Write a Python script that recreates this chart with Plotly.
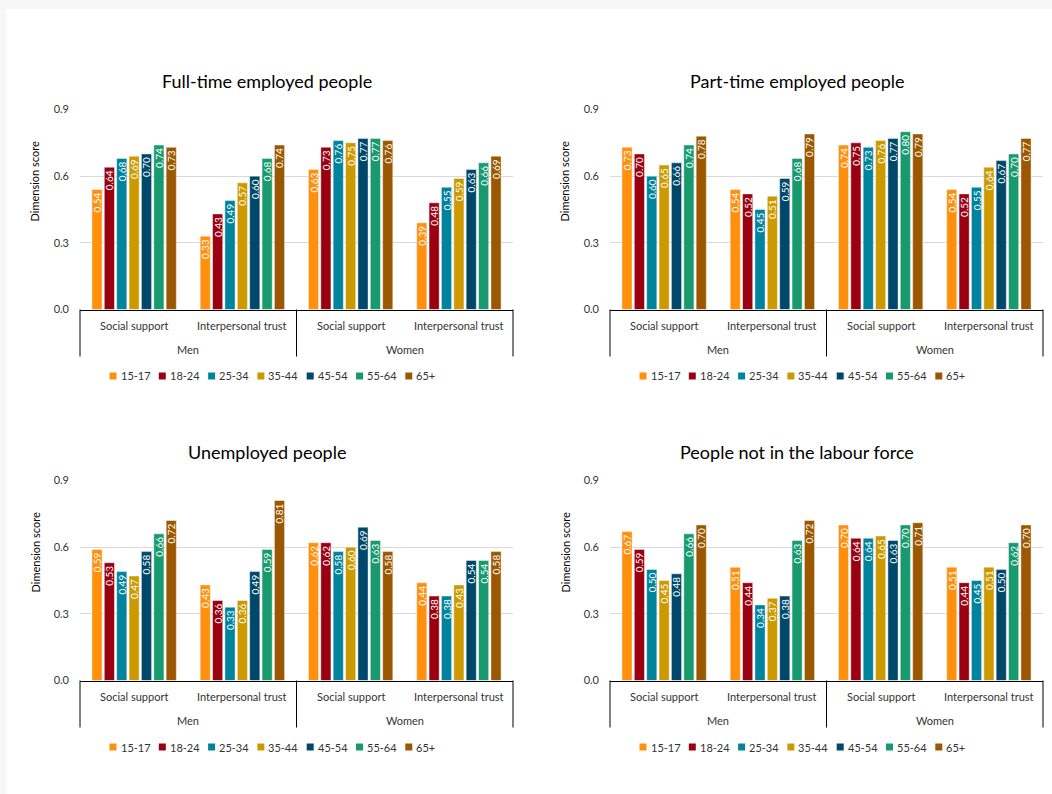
import plotly.graph_objects as go

ages = ["15-17", "18-24", "25-34", "35-44", "45-54", "55-64", "65+"]
colors = ["#FF900E", "#990012", "#00849D", "#CC9A00", "#00486A", "#189A6E", "#9C5800"]
groups = ["Men", "Men", "Women", "Women"]
dims = ["Social support", "Interpersonal trust", "Social support", "Interpersonal trust"]
group_names = ["Men", "Women"]
titles = ["Full-time employed people", "Part-time employed people",
          "Unemployed people", "People not in the labour force"]

# values[panel][age] -> [Men SS, Men IT, Women SS, Women IT]
full_time = [
    [0.54, 0.33, 0.63, 0.39],
    [0.64, 0.43, 0.73, 0.48],
    [0.68, 0.49, 0.76, 0.55],
    [0.69, 0.57, 0.75, 0.59],
    [0.70, 0.60, 0.77, 0.63],
    [0.74, 0.68, 0.77, 0.66],
    [0.73, 0.74, 0.76, 0.69],
]
part_time = [
    [0.73, 0.54, 0.74, 0.54],
    [0.70, 0.52, 0.75, 0.52],
    [0.60, 0.45, 0.73, 0.55],
    [0.65, 0.51, 0.76, 0.64],
    [0.66, 0.59, 0.77, 0.67],
    [0.74, 0.68, 0.80, 0.70],
    [0.78, 0.79, 0.79, 0.77],
]
unemployed = [
    [0.59, 0.43, 0.62, 0.44],
    [0.53, 0.36, 0.62, 0.38],
    [0.49, 0.33, 0.58, 0.38],
    [0.47, 0.36, 0.60, 0.43],
    [0.58, 0.49, 0.69, 0.54],
    [0.66, 0.59, 0.63, 0.54],
    [0.72, 0.81, 0.58, 0.58],
]
not_in_lf = [
    [0.67, 0.51, 0.70, 0.51],
    [0.59, 0.44, 0.64, 0.44],
    [0.50, 0.34, 0.64, 0.45],
    [0.45, 0.37, 0.65, 0.51],
    [0.48, 0.38, 0.63, 0.50],
    [0.66, 0.63, 0.70, 0.62],
    [0.70, 0.72, 0.71, 0.70],
]
panels = [full_time, part_time, unemployed, not_in_lf]

W, H = 1052, 794
FONT = "Lato"
TXT = "#333333"

def px_x(v):
    return v / W

def px_y(v):
    return 1 - v / H

# layout geometry (pixels): right column offset 530, bottom row offset 371
DX, DY = 530, 371
offs = [(0, 0), (DX, 0), (0, DY), (DX, DY)]
PLOT_X = (80, 513)
PLOT_Y = (109.5, 309.5)
TITLE_XY = (267, 81)
YTITLE_XY = (34.5, 182)
LEG_X0, LEG_STEP, LEG_Y, SQ = 109.5, 49.3, 376, 7
INNER_OFF, OUTER_OFF, DIV_LEN = 16, 40, 47

fig = go.Figure()
layout = dict()
annotations = []
shapes = [dict(type="rect", xref="paper", yref="paper",
               x0=6 / W, x1=1, y0=0, y1=1 - 9 / H,
               fillcolor="white", line=dict(width=0), layer="below")]
for p, data in enumerate(panels):
    ox, oy = offs[p]
    ax = "" if p == 0 else str(p + 1)
    ph = PLOT_Y[1] - PLOT_Y[0]
    for a, age in enumerate(ages):
        fig.add_trace(go.Bar(
            x=[groups, dims], y=data[a], name=age,
            marker=dict(color=colors[a], line=dict(color="rgba(255,255,255,0.55)", width=0.8)),
            text=data[a], texttemplate="%{y:.2f}", textposition="inside",
            insidetextanchor="end", textangle=-90, cliponaxis=False,
            textfont=dict(color="white", size=10, family=FONT),
            xaxis="x" + ax, yaxis="y" + ax, showlegend=False,
            hovertemplate=age + ": %{y:.2f}<extra></extra>",
        ))
    layout["xaxis" + ax] = dict(
        domain=[px_x(PLOT_X[0] + ox), px_x(PLOT_X[1] + ox)],
        anchor="y" + ax, type="multicategory", automargin=False,
        showline=True, linecolor="#000", linewidth=1,
        showdividers=False, showticklabels=False,
        showgrid=False, ticks="",
    )
    layout["yaxis" + ax] = dict(
        domain=[px_y(PLOT_Y[1] + oy), px_y(PLOT_Y[0] + oy)],
        anchor="x" + ax, range=[0, 0.9], tickvals=[0, 0.3, 0.6, 0.9],
        tickformat=".1f", showgrid=True, gridcolor="#D9D9D9", gridwidth=1,
        zeroline=False, showline=False, ticks="", automargin=False,
        ticklabelstandoff=10,
        tickfont=dict(size=11, color=TXT, family=FONT),
    )
    # category labels (inner level) and group labels (outer level)
    n = len(dims)
    for i, d in enumerate(dims):
        annotations.append(dict(
            text=d, x=(i + 0.5) / n, y=-INNER_OFF / ph,
            xref="x" + ax + " domain", yref="y" + ax + " domain",
            xanchor="center", yanchor="middle", showarrow=False,
            font=dict(size=11, color=TXT, family=FONT),
        ))
    ng = len(group_names)
    for g, gname in enumerate(group_names):
        annotations.append(dict(
            text=gname, x=(g + 0.5) / ng, y=-OUTER_OFF / ph,
            xref="x" + ax + " domain", yref="y" + ax + " domain",
            xanchor="center", yanchor="middle", showarrow=False,
            font=dict(size=11, color=TXT, family=FONT),
        ))
    for g in range(ng + 1):
        shapes.append(dict(
            type="line", xref="x" + ax + " domain", yref="y" + ax + " domain",
            x0=g / ng, x1=g / ng, y0=0, y1=-DIV_LEN / ph,
            line=dict(color="#000", width=1),
        ))
    # legend (swatch + label per age group)
    for a, age in enumerate(ages):
        sx = LEG_X0 + ox + a * LEG_STEP
        sy = LEG_Y + oy
        shapes.append(dict(
            type="rect", xref="paper", yref="paper",
            x0=px_x(sx), x1=px_x(sx + SQ), y0=px_y(sy + SQ / 2), y1=px_y(sy - SQ / 2),
            fillcolor=colors[a], line=dict(width=0),
        ))
        annotations.append(dict(
            text=age, x=px_x(sx + SQ + 2), y=px_y(sy),
            xref="paper", yref="paper", xanchor="left", yanchor="middle",
            showarrow=False, font=dict(size=11, color=TXT, family=FONT),
        ))
    annotations.append(dict(
        text=titles[p], x=px_x(TITLE_XY[0] + ox), y=px_y(TITLE_XY[1] + oy),
        xref="paper", yref="paper", showarrow=False,
        xanchor="center", yanchor="middle",
        font=dict(size=18, color="#000", family=FONT),
    ))
    annotations.append(dict(
        text="Dimension score", x=px_x(YTITLE_XY[0] + ox), y=px_y(YTITLE_XY[1] + oy),
        xref="paper", yref="paper", showarrow=False, textangle=-90,
        xanchor="center", yanchor="middle",
        font=dict(size=11, color="#000", family=FONT),
    ))

fig.update_layout(
    **layout,
    width=W, height=H,
    margin=dict(l=0, r=0, t=0, b=0, pad=0, autoexpand=False),
    paper_bgcolor="#F7F7F7", plot_bgcolor="rgba(0,0,0,0)",
    barmode="group", bargap=0.2, bargroupgap=0.18,
    uniformtext=dict(minsize=10, mode="show"),
    annotations=annotations,
    shapes=shapes,
    font=dict(family=FONT),
)
fig.write_html("out.html", config={"displayModeBar": False},
               post_script="document.body.style.margin='0';")
